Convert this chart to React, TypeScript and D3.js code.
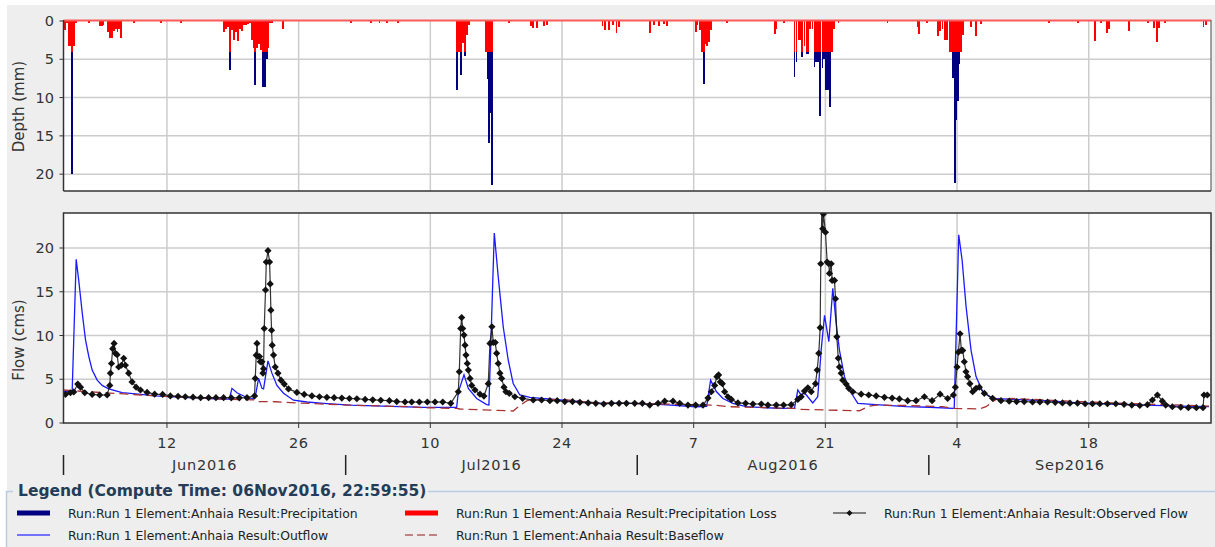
import React from "react";
import * as d3 from "d3";

// ---------- DATA ----------
const START = "2016-06-01";
const END = "2016-10-01";
const depthTicks = [0, 5, 10, 15, 20];
const flowTicks = [0, 5, 10, 15, 20];
const dayTicks = ["2016-06-12", "2016-06-26", "2016-07-10", "2016-07-24", "2016-08-07", "2016-08-21", "2016-09-04", "2016-09-18"];
const monthStarts = ["2016-06-01", "2016-07-01", "2016-08-01", "2016-09-01"];

// [days since 01Jun2016 00:00, precipitation (mm), precipitation loss (mm)]
const precipitation: [number, number, number][] = [
  [0.05, 1.2, 1.2], [0.25, 0.3, 0.3], [0.45, 3.3, 3.3], [0.65, 3.3, 3.3], [0.85, 20, 4], [1.05, 3.3, 3.3], [1.25, 0.3, 0.3],
  [2.65, 0.3, 0.3], [3.75, 0.7, 0.7], [3.95, 0.7, 0.7], [4.15, 0.5, 0.5],
  [4.64, 1.5, 1.5], [4.84, 2.2, 2.2], [5.04, 2.2, 2.2], [5.24, 1.3, 1.3], [5.44, 1.0, 1.0], [5.64, 1.5, 1.5], [5.84, 1.0, 1.0], [6.04, 2.2, 2.2],
  [7.43, 0.3, 0.3], [10.3, 0.25, 0.25], [12.42, 0.3, 0.3],
  [16.96, 1.5, 1.5], [17.17, 1.0, 1.0], [17.38, 0.8, 0.8], [17.59, 6.4, 4], [17.8, 1.2, 1.2], [18.01, 2.5, 2.5], [18.22, 1.5, 1.5],
  [18.43, 2.6, 2.6], [18.65, 1.0, 1.0], [18.86, 1.3, 1.3], [19.07, 0.5, 0.5], [19.28, 0.5, 0.5], [19.49, 0.4, 0.4], [19.7, 0.3, 0.3],
  [19.92, 2.5, 2.5], [20.13, 3.5, 3.5], [20.3, 8.4, 4], [20.5, 3.5, 3.5], [20.7, 3.0, 3.0], [20.9, 3.8, 3.8], [21.1, 8.6, 4],
  [21.3, 8.6, 4], [21.5, 5.0, 4], [21.7, 3.5, 3.5], [21.9, 0.3, 0.3], [22.1, 0.3, 0.3], [23.22, 1.1, 1.1],
  [30.47, 0.3, 0.3], [32.6, 0.2, 0.2], [33.5, 0.3, 0.3], [34.3, 0.3, 0.3], [35.5, 0.3, 0.3],
  [41.73, 9.0, 4], [41.93, 4.0, 4], [42.14, 7.0, 4], [42.35, 2.9, 2.9], [42.56, 4.6, 4], [42.77, 1.8, 1.8], [42.98, 0.5, 0.5],
  [44.85, 4.0, 4], [45.0, 7.6, 4], [45.15, 15.9, 4], [45.3, 12.0, 4], [45.47, 21.4, 4],
  [47.25, 0.3, 0.3], [49.6, 0.6, 0.6], [49.85, 0.9, 0.9], [50.2, 0.9, 0.9], [50.95, 0.65, 0.65], [51.3, 0.5, 0.5],
  [57.2, 0.6, 0.6], [57.5, 1.2, 1.2], [57.9, 1.2, 1.2], [58.3, 0.5, 0.5], [58.7, 1.6, 1.6], [59.0, 0.8, 0.8],
  [62.3, 1.6, 1.6], [62.7, 0.5, 0.5], [63.2, 0.6, 0.6], [63.7, 0.4, 0.4], [64.1, 0.6, 0.6],
  [67.1, 1.4, 1.4], [67.3, 0.5, 0.5], [67.6, 1.2, 1.2], [67.8, 4.0, 4], [67.95, 8.2, 4], [68.15, 3.0, 3.0], [68.35, 3.3, 3.3],
  [68.55, 2.8, 2.8], [68.75, 1.2, 1.2],
  [70.47, 0.3, 0.3], [75.5, 1.7, 1.7], [75.7, 1.0, 1.0], [76.5, 0.3, 0.3],
  [77.62, 7.3, 4], [77.83, 5.3, 4], [78.04, 2.5, 2.5], [78.25, 2.5, 2.5], [78.46, 4.7, 4], [78.68, 3.3, 3.3], [78.89, 4.3, 4],
  [79.1, 4.3, 4], [79.31, 1.0, 1.0], [79.53, 1.0, 1.0], [79.74, 6.0, 4], [79.95, 5.3, 4], [80.16, 5.3, 4], [80.37, 12.4, 4],
  [80.59, 6.2, 4], [80.8, 5.0, 4], [81.01, 9.0, 4], [81.22, 9.0, 4], [81.43, 11.2, 4], [81.65, 4.0, 4], [81.86, 1.0, 1.0],
  [82.3, 0.2, 0.2], [87.5, 0.2, 0.2], [90.7, 0.8, 0.8], [90.9, 1.7, 1.7], [91.7, 0.2, 0.2],
  [92.85, 2.0, 2.0], [93.1, 1.3, 1.3], [93.35, 1.0, 1.0], [93.6, 2.5, 2.5], [93.8, 2.5, 2.5],
  [94.1, 4, 4], [94.3, 4, 4], [94.5, 7.5, 4], [94.68, 21.2, 4], [94.82, 12.9, 4], [94.98, 10.5, 4], [95.15, 5.6, 4],
  [95.33, 4, 4], [95.52, 1.8, 1.8],
  [96.4, 0.8, 0.8], [96.95, 2.0, 2.0], [97.45, 0.4, 0.4],
  [104.7, 0.2, 0.2], [107.8, 0.2, 0.2], [109.55, 2.6, 2.6], [110.2, 0.3, 0.3], [110.85, 1.6, 1.6], [111.05, 1.0, 1.0],
  [113.2, 1.3, 1.3], [115.2, 0.3, 0.3], [115.8, 0.9, 0.9], [116.15, 2.7, 2.7], [116.4, 0.9, 0.9], [117.0, 0.2, 0.2],
  [121.1, 0.8, 0.8], [121.4, 0.5, 0.5],
];

// [days since 01Jun2016, flow (cms)]
const observedFlow: [number, number][] = [
  [0.21, 3.27], [0.74, 3.46], [1.09, 3.55], [1.52, 4.45], [1.81, 4.1], [2.26, 3.46], [3.05, 3.27], [3.85, 3.2], [4.64, 3.2],
  [4.92, 4.3], [4.99, 5.7], [5.1, 6.8], [5.23, 8.5], [5.38, 9.1], [5.52, 7.96], [5.7, 7.8], [5.87, 6.4], [6.16, 6.6],
  [6.4, 7.4], [6.58, 6.6], [6.93, 5.7], [7.29, 4.7], [7.72, 4.1], [8.18, 3.77], [8.89, 3.5], [9.69, 3.3], [10.54, 3.27],
  [11.36, 3.1], [12.18, 3.05], [12.95, 3.0], [13.77, 2.95], [14.58, 2.9], [15.43, 2.9], [16.21, 2.9], [17.02, 2.9],
  [17.84, 2.88], [18.69, 2.88], [19.51, 2.9], [20.31, 3.1], [20.39, 5.1], [20.49, 7.75], [20.57, 9.1], [20.67, 7.6],
  [20.84, 7.6], [20.92, 7.0], [21.1, 7.0], [21.2, 5.7], [21.27, 6.2], [21.34, 10.8], [21.48, 15.2], [21.56, 18.4],
  [21.74, 19.7], [21.91, 18.4], [21.98, 15.9], [22.05, 12.9], [22.12, 10.6], [22.19, 8.9], [22.33, 7.76], [22.51, 6.4],
  [22.8, 5.7], [23.12, 4.9], [23.47, 4.45], [23.92, 3.9], [24.81, 3.5], [25.59, 3.27], [26.41, 3.1], [27.21, 3.0],
  [28.0, 2.93], [28.77, 2.9], [29.59, 2.85], [30.4, 2.8], [31.19, 2.77], [32.07, 2.7], [32.88, 2.65], [33.73, 2.6],
  [34.65, 2.55], [35.43, 2.45], [36.31, 2.4], [37.02, 2.4], [37.83, 2.4], [38.68, 2.4], [39.5, 2.4], [40.32, 2.4],
  [41.17, 2.25], [41.97, 3.57], [42.08, 5.86], [42.23, 10.8], [42.33, 12.05], [42.44, 10.8], [42.58, 10.05], [42.69, 8.9],
  [42.79, 7.76], [42.93, 6.8], [43.04, 6.05], [43.22, 5.1], [43.4, 4.3], [43.75, 3.77], [44.28, 3.3], [44.7, 3.08],
  [45.16, 4.5], [45.34, 9.1], [45.55, 11.0], [45.69, 9.2], [45.9, 9.2], [46.05, 7.96], [46.22, 6.8], [46.4, 5.7],
  [46.58, 5.1], [46.83, 4.1], [47.04, 3.57], [47.39, 3.39], [47.99, 3.0], [48.81, 2.82], [49.94, 2.63], [50.83, 2.63],
  [51.71, 2.55], [52.49, 2.55], [53.3, 2.45], [54.12, 2.45], [54.9, 2.36], [55.78, 2.3], [56.59, 2.25], [57.44, 2.17],
  [58.26, 2.25], [59.07, 2.25], [59.85, 2.25], [60.73, 2.25], [61.55, 2.25], [62.33, 2.05], [63.21, 2.25], [63.92, 2.5],
  [64.8, 2.5], [65.51, 2.25], [66.39, 2.05], [67.21, 2.05], [67.99, 2.05], [68.52, 2.85], [68.88, 3.57], [69.23, 4.3],
  [69.47, 5.3], [69.65, 5.5], [69.83, 4.7], [70.05, 4.5], [70.29, 3.57], [70.64, 3.0], [71.0, 2.7], [71.7, 2.3],
  [72.52, 2.25], [73.3, 2.17], [74.19, 2.17], [74.89, 2.05], [75.78, 2.05], [76.56, 2.05], [77.37, 2.1], [78.07, 2.7],
  [78.43, 3.0], [78.78, 3.65], [79.14, 4.03], [79.5, 3.57], [79.95, 4.5], [80.13, 6.05], [80.3, 7.96], [80.45, 10.9],
  [80.51, 18.2], [80.62, 24.2], [80.72, 22.2], [80.8, 23.9], [81.01, 21.8], [81.19, 18.4], [81.36, 18.2], [81.44, 17.1],
  [81.62, 18.2], [81.72, 16.3], [81.97, 16.3], [82.08, 14.2], [82.22, 9.85], [82.37, 7.4], [82.5, 6.4], [82.68, 5.7],
  [82.85, 4.9], [83.21, 4.45], [83.49, 3.96], [83.91, 3.57], [84.81, 3.3], [85.61, 3.2], [86.4, 3.1], [87.28, 2.93],
  [88.1, 2.85], [88.87, 2.75], [89.75, 2.55], [90.65, 2.55], [91.53, 3.0], [92.35, 2.55], [93.2, 3.3], [94.0, 2.8],
  [94.61, 3.2], [94.82, 4.1], [95.0, 6.4], [95.14, 8.1], [95.32, 10.2], [95.46, 8.3], [95.6, 8.3], [95.77, 7.0],
  [95.95, 5.86], [96.12, 5.3], [96.37, 4.5], [96.66, 3.57], [97.02, 3.96], [97.37, 4.1], [97.9, 3.39], [98.78, 2.82],
  [99.67, 2.55], [100.55, 2.5], [101.33, 2.45], [102.14, 2.45], [103.03, 2.4], [103.81, 2.4], [104.62, 2.4], [105.44, 2.36],
  [106.21, 2.3], [107.0, 2.27], [107.81, 2.27], [108.62, 2.2], [109.4, 2.2], [110.18, 2.2], [110.99, 2.2], [111.88, 2.2],
  [112.76, 2.13], [113.58, 2.05], [114.43, 2.0], [115.24, 2.1], [115.77, 2.63], [116.3, 3.2], [116.83, 2.5], [117.19, 2.05],
  [117.89, 1.86], [118.78, 1.8], [119.59, 1.75], [120.44, 1.75], [121.15, 1.75], [121.26, 3.2], [121.61, 3.2],
];

const outflow: [number, number][] = [
  [0, 3.6], [0.92, 3.6], [1.35, 18.7], [1.62, 16.3], [1.99, 12.6], [2.34, 9.5], [2.69, 7.6], [3.05, 6.05], [3.58, 4.9],
  [4.11, 4.3], [4.81, 3.9], [6.23, 3.46], [7.96, 3.3], [9.77, 3.1], [13.27, 2.9], [16.85, 2.74], [17.63, 2.74],
  [17.91, 3.96], [18.44, 3.46], [19.32, 3.0], [20.21, 2.74], [20.39, 3.0], [20.74, 5.1], [21.1, 3.96], [21.27, 3.9],
  [21.74, 7.1], [22.16, 5.7], [22.69, 4.3], [23.39, 3.4], [24.45, 2.6], [25.88, 2.4], [27.64, 2.25], [30.47, 2.05],
  [34.01, 1.94], [38.26, 1.79], [41.8, 1.8], [41.97, 3.5], [42.58, 5.5], [43.04, 3.96], [43.93, 2.8], [44.99, 2.1],
  [45.23, 2.05], [45.8, 21.7], [46.22, 16.7], [46.75, 11.0], [47.28, 7.2], [47.81, 4.5], [48.52, 3.2], [49.59, 2.93],
  [53.12, 2.6], [56.67, 2.3], [60.2, 2.25], [63.74, 2.1], [67.28, 1.86], [68.38, 1.9], [68.8, 4.9], [69.41, 3.6],
  [70.11, 2.8], [71.17, 2.25], [72.59, 1.86], [76.13, 1.67], [77.72, 1.7], [78.07, 3.77], [78.43, 3.2], [78.78, 3.46],
  [79.66, 2.3], [80.19, 3.0], [80.55, 8.3], [80.91, 12.3], [81.37, 9.3], [81.79, 15.4], [82.15, 11.4], [82.5, 8.3],
  [83.03, 5.3], [83.56, 3.77], [84.45, 2.25], [86.4, 2.1], [89.58, 1.86], [92.06, 1.8], [94.54, 1.67], [94.7, 1.7],
  [95.18, 21.5], [95.54, 18.6], [95.96, 13.3], [96.49, 8.3], [97.02, 5.3], [97.72, 3.6], [98.78, 2.8], [100.9, 2.7],
  [104.45, 2.55], [107.98, 2.3], [111.52, 2.17], [115.07, 2.05], [118.6, 1.94], [121.79, 1.86],
];

const baseflow: [number, number][] = [
  [0, 3.77], [2.69, 3.57], [9.77, 3.1], [16.85, 2.74], [20.21, 2.65], [20.49, 2.45], [22.51, 2.43], [24.81, 2.3],
  [30.12, 2.05], [36.84, 1.86], [38.22, 1.75], [41.8, 1.67], [42.15, 1.6], [47.81, 1.37], [48.52, 2.0], [49.37, 2.6],
  [51.17, 2.7], [53.48, 2.65], [56.67, 2.3], [63.74, 2.17], [69.05, 2.05], [70.82, 1.86], [77.72, 1.67], [78.25, 1.56],
  [84.62, 1.4], [85.69, 1.94], [86.4, 2.05], [89.58, 2.0], [93.47, 1.86], [94.71, 1.67], [97.37, 1.6], [98.08, 1.86],
  [99.14, 2.7], [100.9, 2.8], [106.92, 2.5], [111.52, 2.3], [115.07, 2.17], [121.79, 1.94],
];

const legendTitle = "Legend (Compute Time: 06Nov2016, 22:59:55)";
const legendItems = [
  { key: "precip", label: "Run:Run 1 Element:Anhaia Result:Precipitation" },
  { key: "loss", label: "Run:Run 1 Element:Anhaia Result:Precipitation Loss" },
  { key: "observed", label: "Run:Run 1 Element:Anhaia Result:Observed Flow" },
  { key: "outflow", label: "Run:Run 1 Element:Anhaia Result:Outflow" },
  { key: "baseflow", label: "Run:Run 1 Element:Anhaia Result:Baseflow" },
];

// ---------- STYLE / LAYOUT ----------
const W = 1215;
const H = 547;
const FONT = "DejaVu Sans, sans-serif";
const C = {
  precip: "#000080",
  loss: "#ff0000",
  outflow: "#1a1aff",
  baseflow: "#a83232",
  observed: "#111111",
  grid: "#cccccc",
  axis: "#333333",
  text: "#333333",
  bg: "#eeeeee",
  legendBorder: "#b8cde3",
  legendTitle: "#253c58",
};
const L = { left: 63.5, right: 1211 };
const TOP = { top: 20, bottom: 191, depthTop: 21 };
const BOT = { top: 213, bottom: 423 };
const BAR_STEP = 0.2;

const parse = d3.utcParse("%Y-%m-%d");
const t0 = parse(START) as Date;
const t1 = parse(END) as Date;
const toDate = (d: number) => new Date(t0.getTime() + d * 864e5);

function diamond(cx: number, cy: number, r: number) {
  return `M${cx},${cy - r}L${cx + r},${cy}L${cx},${cy + r}L${cx - r},${cy}Z`;
}

export default function App() {
  const x = d3.scaleUtc().domain([t0, t1]).range([L.left, L.right]);
  const yD = d3.scaleLinear().domain([0, 22.2]).range([TOP.depthTop, TOP.bottom]);
  const yF = d3.scaleLinear().domain([0, 24]).range([BOT.bottom, BOT.top]);
  const line = d3
    .line<[number, number]>()
    .x((d) => x(toDate(d[0])))
    .y((d) => yF(d[1]));
  const fmtDay = d3.utcFormat("%-d");
  const fmtMonth = d3.utcFormat("%b%Y");
  const ticks = dayTicks.map((s) => parse(s) as Date);
  const months = monthStarts.map((s) => parse(s) as Date);
  const monthEnds = [...months.slice(1), t1];

  const barX = (d: number) => x(toDate(d));
  const barW = (d: number) => Math.max(1.2, x(toDate(d + BAR_STEP)) - x(toDate(d)));

  return (
    <svg
      width={W}
      height={H}
      style={{ position: "absolute", left: 0, top: 0, display: "block", background: "#ffffff" }}
      fontFamily={FONT}
    >
      <defs>
        <clipPath id="clipTop">
          <rect x={L.left} y={TOP.top} width={L.right - L.left} height={TOP.bottom - TOP.top} />
        </clipPath>
        <clipPath id="clipBot">
          <rect x={L.left} y={BOT.top} width={L.right - L.left} height={BOT.bottom - BOT.top} />
        </clipPath>
      </defs>
      <rect x={7} y={5} width={W - 7} height={H - 5} fill={C.bg} />

      {/* ---------- TOP PLOT ---------- */}
      <rect x={L.left} y={TOP.top} width={L.right - L.left} height={TOP.bottom - TOP.top} fill="#fff" />
      {depthTicks.filter((t) => t > 0).map((t) => (
        <line key={"gd" + t} x1={L.left} x2={L.right} y1={yD(t)} y2={yD(t)} stroke={C.grid} strokeWidth={1.5} />
      ))}
      {ticks.map((t, i) => (
        <line key={"gvt" + i} x1={x(t)} x2={x(t)} y1={TOP.top} y2={TOP.bottom} stroke={C.grid} strokeWidth={1.5} />
      ))}
      <g clipPath="url(#clipTop)" shapeRendering="crispEdges">
        {precipitation.map((d, i) => (
          <rect key={"p" + i} x={barX(d[0])} width={barW(d[0])} y={yD(0)} height={yD(d[1]) - yD(0)} fill={C.precip} />
        ))}
        {precipitation.map((d, i) => (
          <rect key={"l" + i} x={barX(d[0])} width={barW(d[0])} y={yD(0)} height={yD(d[2]) - yD(0)} fill={C.loss} />
        ))}
      </g>
      <line x1={L.left} x2={L.right} y1={TOP.top + 0.5} y2={TOP.top + 0.5} stroke="#ff5a5a" strokeWidth={2} />
      <line x1={L.right} x2={L.right} y1={TOP.top} y2={TOP.bottom} stroke="#666" strokeWidth={1.2} />
      <line x1={L.left} x2={L.left} y1={TOP.top} y2={TOP.bottom} stroke={C.axis} strokeWidth={1.5} />
      <line x1={L.left} x2={L.right} y1={TOP.bottom} y2={TOP.bottom} stroke={C.axis} strokeWidth={1.5} />
      {depthTicks.map((t) => (
        <g key={"td" + t}>
          <line x1={L.left - 4} x2={L.left} y1={yD(t)} y2={yD(t)} stroke={C.axis} strokeWidth={1} />
          <text x={54} y={yD(t)} textAnchor="end" dominantBaseline="central" fontSize={14.5} fill={C.text}>
            {t}
          </text>
        </g>
      ))}
      <text
        transform={`translate(19,${(TOP.top + TOP.bottom) / 2 + 1}) rotate(-90)`}
        textAnchor="middle"
        dominantBaseline="central"
        fontSize={15}
        fill={C.text}
      >
        Depth (mm)
      </text>

      {/* ---------- BOTTOM PLOT ---------- */}
      <rect x={L.left} y={BOT.top} width={L.right - L.left} height={BOT.bottom - BOT.top} fill="#fff" />
      {flowTicks.filter((t) => t > 0).map((t) => (
        <line key={"gf" + t} x1={L.left} x2={L.right} y1={yF(t)} y2={yF(t)} stroke={C.grid} strokeWidth={1.5} />
      ))}
      {ticks.map((t, i) => (
        <line key={"gvb" + i} x1={x(t)} x2={x(t)} y1={BOT.top} y2={BOT.bottom} stroke={C.grid} strokeWidth={1.5} />
      ))}
      <g clipPath="url(#clipBot)">
        <path d={line(outflow) || ""} fill="none" stroke={C.outflow} strokeWidth={1.3} />
        <path d={line(baseflow) || ""} fill="none" stroke={C.baseflow} strokeWidth={1.3} strokeDasharray="9,5" />
        <path d={line(observedFlow) || ""} fill="none" stroke={C.observed} strokeWidth={1.2} strokeOpacity={0.85} />
        {observedFlow.map((d, i) => (
          <path key={"m" + i} d={diamond(x(toDate(d[0])), yF(d[1]), 3.6)} fill={C.observed} />
        ))}
      </g>
      <rect
        x={L.left}
        y={BOT.top}
        width={L.right - L.left}
        height={BOT.bottom - BOT.top}
        fill="none"
        stroke={C.axis}
        strokeWidth={1.5}
      />
      {flowTicks.map((t) => (
        <g key={"tf" + t}>
          <line x1={L.left - 4} x2={L.left} y1={yF(t)} y2={yF(t)} stroke={C.axis} strokeWidth={1} />
          <text x={54} y={yF(t)} textAnchor="end" dominantBaseline="central" fontSize={14.5} fill={C.text}>
            {t}
          </text>
        </g>
      ))}
      <text
        transform={`translate(19,340) rotate(-90)`}
        textAnchor="middle"
        dominantBaseline="central"
        fontSize={15}
        fill={C.text}
      >
        Flow (cms)
      </text>

      {/* ---------- TIME AXIS ---------- */}
      {ticks.map((t, i) => (
        <g key={"tx" + i}>
          <line x1={x(t)} x2={x(t)} y1={BOT.bottom} y2={BOT.bottom + 5} stroke={C.axis} strokeWidth={1} />
          <text x={x(t)} y={443} textAnchor="middle" dominantBaseline="central" fontSize={14.5} fill={C.text} letterSpacing={0.5}>
            {fmtDay(t)}
          </text>
        </g>
      ))}
      {months.map((m, i) => (
        <g key={"mo" + i}>
          <line x1={x(m)} x2={x(m)} y1={455} y2={475} stroke="#222" strokeWidth={1.5} />
          <text
            x={(x(m) + x(monthEnds[i])) / 2}
            y={465}
            textAnchor="middle"
            dominantBaseline="central"
            fontSize={14.5}
            fill={C.text}
            letterSpacing={0.8}
          >
            {fmtMonth(m)}
          </text>
        </g>
      ))}

      {/* ---------- LEGEND ---------- */}
      <path d={`M6.5,${H} V491.5 H13`} fill="none" stroke={C.legendBorder} strokeWidth={1.5} />
      <path d={`M428,491.5 H${W}`} fill="none" stroke={C.legendBorder} strokeWidth={1.5} />
      <text x={18} y={491} dominantBaseline="central" fontSize={15.5} fontWeight="bold" fill={C.legendTitle}>
        {legendTitle}
      </text>
      {legendItems.map((it, i) => {
        const col = [0, 1, 2, 0, 1][i];
        const row = i < 3 ? 0 : 1;
        const sx = [17, 405, 833][col];
        const tx = [68, 456, 884][col];
        const cy = row === 0 ? 513 : 535;
        let sw: React.ReactNode = null;
        if (it.key === "precip") sw = <rect x={sx} y={cy - 2.5} width={33} height={5} fill={C.precip} />;
        else if (it.key === "loss") sw = <rect x={sx} y={cy - 2.5} width={33} height={5} fill={C.loss} />;
        else if (it.key === "observed")
          sw = (
            <g>
              <line x1={sx} x2={sx + 33} y1={cy} y2={cy} stroke={C.observed} strokeWidth={1.2} />
              <path d={diamond(sx + 16.5, cy, 3)} fill={C.observed} />
            </g>
          );
        else if (it.key === "outflow")
          sw = <line x1={sx} x2={sx + 33} y1={cy} y2={cy} stroke="#4a4aff" strokeWidth={1.3} />;
        else
          sw = (
            <line x1={sx} x2={sx + 33} y1={cy} y2={cy} stroke="#b06060" strokeWidth={1.3} strokeDasharray="8,4" />
          );
        return (
          <g key={it.key}>
            {sw}
            <text x={tx} y={cy} dominantBaseline="central" fontSize={12.4} fill="#222">
              {it.label}
            </text>
          </g>
        );
      })}
    </svg>
  );
}
